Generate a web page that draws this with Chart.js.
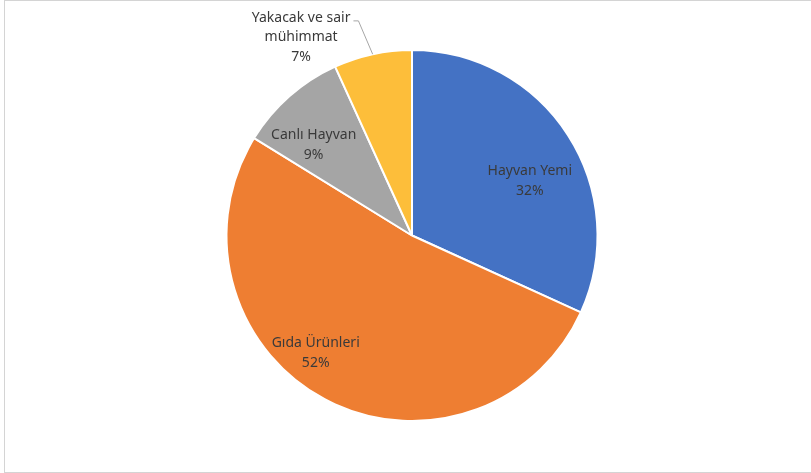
<!DOCTYPE html>
<html>
<head>
<meta charset="utf-8">
<script src="https://cdn.jsdelivr.net/npm/chart.js@4.4.1/dist/chart.umd.min.js"></script>
<style>
    html, body { margin: 0; padding: 0; background: #fff; }
    #wrap { position: relative; width: 811px; height: 473px; }
    #frame {
        position: absolute; left: 4px; top: 0; width: 810px; height: 473px;
        border: 1px solid #d4d4d4; box-sizing: border-box; pointer-events: none;
    }
</style>
</head>
<body>
<div id="wrap">
    <canvas id="pieChart" width="811" height="473"></canvas>
    <div id="frame"></div>
</div>
<script>
// veriler
const categories = ['Hayvan Yemi', 'Gıda Ürünleri', 'Canlı Hayvan', ['Yakacak ve sair', 'mühimmat']];
const shares = [31.8, 52.0, 9.4, 6.8];
const percentLabels = ['32%', '52%', '9%', '7%'];

const sliceColors = ['#4472C4', '#EE7E32', '#A5A5A5', '#FDBE3A'];

// etiket yerleşimi: dilim orta açısına göre sapma (derece) ve yarıçap oranı
const labelPlacement = [
    { dAngle: 7.9, r: 0.70, leader: false },
    { dAngle: 11.2, r: 0.82, leader: false },
    { dAngle: -6.0, r: 0.72, leader: false },
    { dAngle: -17.0, r: 1.224, leader: true }
];

const LABEL_FONT = '14px "Noto Sans", sans-serif';
const LINE_H = 19.5;

const pieLabels = {
    id: 'pieLabels',
    afterDatasetsDraw(chart) {
        const ctx = chart.ctx;
        const meta = chart.getDatasetMeta(0);
        ctx.save();
        ctx.font = LABEL_FONT;
        ctx.fillStyle = '#3a3a3a';
        ctx.textAlign = 'center';
        ctx.textBaseline = 'middle';
        meta.data.forEach((arc, i) => {
            const p = arc.getProps(['x', 'y', 'startAngle', 'endAngle', 'outerRadius'], true);
            const mid = (p.startAngle + p.endAngle) / 2;
            const a = mid + labelPlacement[i].dAngle * Math.PI / 180;
            const cx = p.x + Math.cos(a) * p.outerRadius * labelPlacement[i].r;
            const cy = p.y + Math.sin(a) * p.outerRadius * labelPlacement[i].r;
            const name = Array.isArray(categories[i]) ? categories[i] : [categories[i]];
            const lines = name.concat([percentLabels[i]]);
            const top = cy - (lines.length - 1) * LINE_H / 2;
            lines.forEach((t, k) => ctx.fillText(t, cx, top + k * LINE_H));

            if (labelPlacement[i].leader) {
                const w = ctx.measureText(lines[0]).width;
                const sx = cx + w / 2 + 3;
                const sy = top + 3;
                const ex = p.x + Math.cos(mid) * p.outerRadius;
                const ey = p.y + Math.sin(mid) * p.outerRadius;
                ctx.beginPath();
                ctx.strokeStyle = '#a6a6a6';
                ctx.lineWidth = 1;
                ctx.moveTo(sx, sy);
                ctx.lineTo(sx + 5, sy);
                ctx.lineTo(ex, ey);
                ctx.stroke();
            }
        });
        ctx.restore();
    }
};

const ctx = document.getElementById('pieChart').getContext('2d');
new Chart(ctx, {
    type: 'pie',
    data: {
        labels: categories,
        datasets: [{
            data: shares,
            backgroundColor: sliceColors,
            borderColor: '#ffffff',
            borderWidth: 2
        }]
    },
    options: {
        responsive: false,
        animation: false,
        layout: {
            padding: { top: 49, bottom: 51, left: 225.5, right: 212.5 }
        },
        plugins: {
            legend: { display: false },
            tooltip: { enabled: false }
        }
    },
    plugins: [pieLabels]
});
</script>
</body>
</html>
